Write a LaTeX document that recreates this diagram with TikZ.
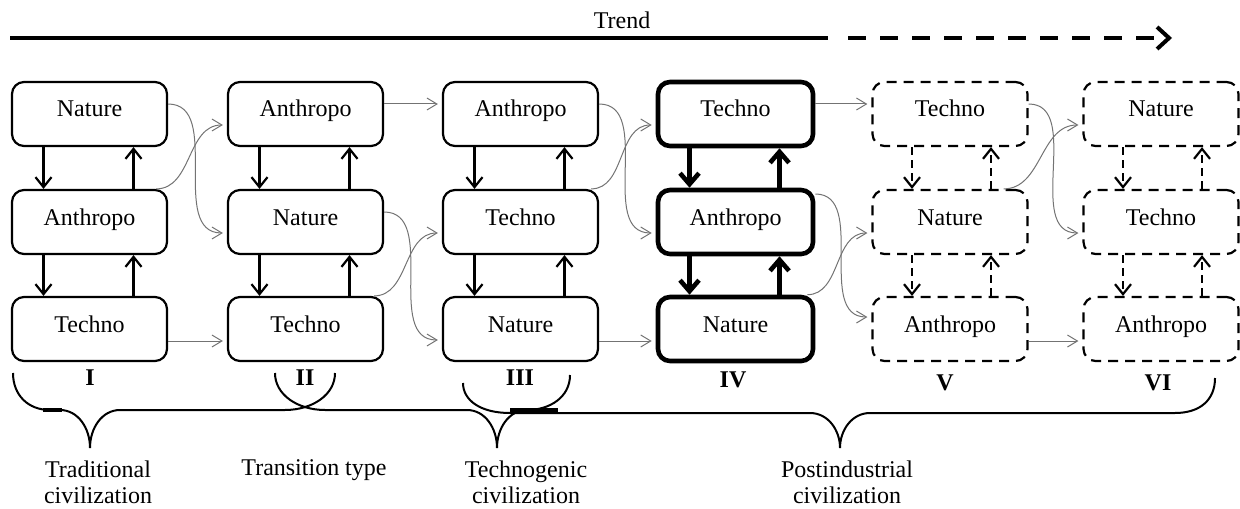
\documentclass[tikz,border=0pt]{standalone}
\usepackage{fontspec}
\setmainfont{Liberation Serif}
\usetikzlibrary{arrows.meta,calc}
\begin{document}
\begin{tikzpicture}[x=0.5pt,y=-0.5pt,
  box/.style={draw, rounded corners=6pt, minimum width=77.5pt, minimum height=32pt, inner sep=0pt, line width=1.1pt, text height=8pt, text depth=5pt, font=\fontsize{12}{14}\selectfont},
  boldbox/.style={box, line width=2.3pt},
  dbox/.style={box, dash pattern=on 5pt off 3.5pt},
  va/.style={line width=1.1pt, -{Straight Barb[length=5pt,width=8pt]}},
  vabold/.style={line width=2.3pt, -{Straight Barb[length=5.5pt,width=9.5pt]}},
  vadash/.style={va, dash pattern=on 4pt off 2.5pt},
  conn/.style={draw=black!55, line width=0.5pt, -{Straight Barb[length=5pt,width=6pt]}},
  lab/.style={font=\fontsize{12}{14}\selectfont\bfseries},
  txt/.style={font=\fontsize{12}{13}\selectfont, align=center},
  brc/.style={line width=1pt}
]
\useasboundingbox (0,0) rectangle (1240,508);

% Trend arrow
\node[font=\fontsize{12}{14}\selectfont] (trend) at (622,20) {Trend};
\coordinate (t0) at (10,38);
\coordinate (t1) at (828,38);
\coordinate (t1b) at (848,38);
\coordinate (t2) at (1172,38);
\draw[line width=2pt] (t0) -- (t1);
\draw[line width=2pt, dash pattern=on 9pt off 7pt, -{Straight Barb[length=6pt,width=11pt]}] (t1b) -- (t2);

% Column I
\node[box] (c1t) at (89.5,114) {Nature};
\node[box] (c1m) at (89.5,222) {Anthropo};
\node[box] (c1b) at (89.5,329) {Techno};
% Column II
\node[box] (c2t) at (305.5,114) {Anthropo};
\node[box] (c2m) at (305.5,222) {Nature};
\node[box] (c2b) at (305.5,329) {Techno};
% Column III
\node[box] (c3t) at (520.5,114) {Anthropo};
\node[box] (c3m) at (520.5,222) {Techno};
\node[box] (c3b) at (520.5,329) {Nature};
% Column IV
\node[boldbox] (c4t) at (735.5,114) {Techno};
\node[boldbox] (c4m) at (735.5,222) {Anthropo};
\node[boldbox] (c4b) at (735.5,329) {Nature};
% Column V
\node[dbox] (c5t) at (950,114) {Techno};
\node[dbox] (c5m) at (950,222) {Nature};
\node[dbox] (c5b) at (950,329) {Anthropo};
% Column VI
\node[dbox] (c6t) at (1161,114) {Nature};
\node[dbox] (c6m) at (1161,222) {Techno};
\node[dbox] (c6b) at (1161,329) {Anthropo};

% vertical arrows
\foreach \c/\s in {c1/va, c2/va, c3/va, c4/vabold}{
  \draw[\s] ($(\c t.south)+(-46,0)$) -- ($(\c m.north)+(-46,0)$);
  \draw[\s] ($(\c m.north)+(44,0)$) -- ($(\c t.south)+(44,0)$);
  \draw[\s] ($(\c m.south)+(-46,0)$) -- ($(\c b.north)+(-46,0)$);
  \draw[\s] ($(\c b.north)+(44,0)$) -- ($(\c m.south)+(44,0)$);
}
\foreach \c in {c5, c6}{
  \draw[vadash] ($(\c t.south)+(-38,0)$) -- ($(\c m.north)+(-38,0)$);
  \draw[vadash] ($(\c m.north)+(41,0)$) -- ($(\c t.south)+(41,0)$);
  \draw[vadash] ($(\c m.south)+(-38,0)$) -- ($(\c b.north)+(-38,0)$);
  \draw[vadash] ($(\c b.north)+(41,0)$) -- ($(\c m.south)+(41,0)$);
}

% connectors between columns
% I -> II
\draw[conn] ($(c1t.east)+(0,-10)$) to[out=0,in=180] ($(c2m.west)+(-4,11)$);
\draw[conn] ($(c1m.north east)+(-12,0)$) to[out=0,in=180] ($(c2t.west)+(-4,11)$);
\draw[conn] ($(c1b.east)+(0,12)$) -- ($(c2b.west)+(-4,12)$);
% II -> III
\draw[conn] ($(c2t.east)+(0,-10)$) -- ($(c3t.west)+(-4,-10)$);
\draw[conn] ($(c2m.east)+(0,-10)$) to[out=0,in=180] ($(c3b.west)+(-4,11)$);
\draw[conn] ($(c2b.north east)+(-10,0)$) to[out=0,in=180] ($(c3m.west)+(-4,11)$);
% III -> IV
\draw[conn] ($(c3t.east)+(0,-10)$) to[out=0,in=180] ($(c4m.west)+(-4,11)$);
\draw[conn] ($(c3m.north east)+(-8,0)$) to[out=0,in=180] ($(c4t.west)+(-4,11)$);
\draw[conn] ($(c3b.east)+(0,12)$) -- ($(c4b.west)+(-4,12)$);
% IV -> V
\draw[conn] ($(c4t.east)+(0,-10)$) -- ($(c5t.west)+(-4,-10)$);
\draw[conn] ($(c4m.east)+(0,-28)$) to[out=0,in=180] ($(c5b.west)+(-4,-12)$);
\draw[conn] ($(c4b.north east)+(-8,0)$) to[out=0,in=180] ($(c5m.west)+(-4,11)$);
% V -> VI
\draw[conn] ($(c5t.east)+(0,-10)$) to[out=0,in=180] ($(c6m.west)+(-4,11)$);
\draw[conn] ($(c5m.north east)+(-25,0)$) to[out=0,in=180] ($(c6t.west)+(-4,11)$);
\draw[conn] ($(c5b.east)+(0,12)$) -- ($(c6b.west)+(-4,12)$);

% Roman labels
\node[lab] (l1) at (90,378) {I};
\node[lab] (l2) at (305,378) {II};
\node[lab] (l3) at (520,378) {III};
\node[lab] (l4) at (733,380) {IV};
\node[lab] (l5) at (945,383) {V};
\node[lab] (l6) at (1158,383) {VI};

% Braces
\draw[brc] (13,373) .. controls (13,395) and (28,410) .. (50,410) -- (60,410) .. controls (78,410) and (90,428) .. (90,448) .. controls (90,428) and (102,410) .. (120,410) -- (285,410) .. controls (312,410) and (335,395) .. (335,373);
\draw[brc] (275,373) .. controls (275,395) and (298,410) .. (325,410) -- (467,410) .. controls (485,410) and (497,428) .. (497,448) .. controls (497,428) and (509,410) .. (527,410) .. controls (550,410) and (570,397) .. (570,375);
\draw[brc] (463,383) .. controls (463,400) and (480,413) .. (510,413) -- (810,413) .. controls (828,413) and (840,430) .. (840,448) .. controls (840,430) and (852,413) .. (870,413) -- (1175,413) .. controls (1200,413) and (1215,400) .. (1215,378);
\draw[line width=1.6pt] (43,410) -- (62,410);
\draw[line width=1.6pt] (510,410) -- (558,410);

% Bottom texts
\node[txt] (tr) at (98,482) {Traditional\\civilization};
\node[txt] (tt) at (314,470) {Transition type};
\node[txt] (tg) at (526,482) {Technogenic\\civilization};
\node[txt] (pi) at (847,482) {Postindustrial\\civilization};
\end{tikzpicture}
\end{document}
